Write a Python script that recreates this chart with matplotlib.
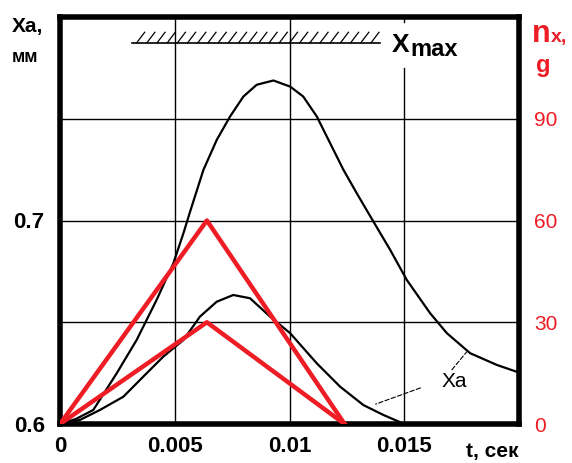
import matplotlib
matplotlib.use('Agg')
import matplotlib.pyplot as plt
import numpy as np

plt.rcParams['font.family'] = ['Liberation Sans', 'DejaVu Sans']

# Перемещение Xa (мм) во времени t (сек), две кривые
t_a = [0, 0.0007, 0.00145, 0.00247, 0.00334, 0.00421, 0.00494, 0.00538, 0.00567,
       0.00625, 0.00683, 0.00741, 0.00799, 0.00857, 0.0093, 0.01003, 0.0106,
       0.01119, 0.01177, 0.01235, 0.01293, 0.01344, 0.01439, 0.01511, 0.01613,
       0.01686, 0.01787, 0.01904, 0.0201]
xa_a = [0.6, 0.6025, 0.6069, 0.6249, 0.6413, 0.661, 0.679, 0.6938, 0.7044,
        0.7249, 0.7396, 0.7511, 0.7609, 0.7667, 0.7688, 0.7658, 0.7609,
        0.7511, 0.738, 0.7249, 0.7134, 0.7036, 0.6855, 0.6708, 0.6544,
        0.6446, 0.6348, 0.629, 0.6249]

t_b = [0, 0.00087, 0.00174, 0.00276, 0.00363, 0.0045, 0.00538, 0.0061, 0.00683,
       0.00755, 0.00828, 0.00915, 0.01003, 0.01119, 0.01221, 0.01322, 0.0141, 0.015]
xa_b = [0.6, 0.602, 0.6069, 0.6134, 0.6233, 0.6331, 0.6413, 0.6528, 0.6601,
        0.6634, 0.6618, 0.6528, 0.6446, 0.6298, 0.6183, 0.6093, 0.6044, 0.6]

# Перегрузка nx (g) - треугольные импульсы
t_n = [0, 0.0064, 0.0124]
nx_1 = [0, 60, 0]
nx_2 = [0, 30, 0]

# Уровень Xmax
xmax_level = 0.7873
xmax_t = [0.00314, 0.01395]

x_ticks = [0, 0.005, 0.01, 0.015]
x_labels = ['0', '0.005', '0.01', '0.015']
y_ticks = [0.6, 0.7]
y_labels = ['0.6', '0.7']
n_ticks = [0, 30, 60, 90]

red = '#ee1c24'

fig = plt.figure(figsize=(5.72, 4.63), dpi=100)
ax = fig.add_axes([60/572, 39/463, 459/572, 407/463])
ax.set_xlim(0, 0.02)
ax.set_ylim(0.6, 0.8)

# сетка
for yg in [0.65, 0.7, 0.75]:
    ax.axhline(yg, color='black', lw=1.0, zorder=1)
ax.axvline(0.005, color='black', lw=1.0, zorder=1)
ax.axvline(0.01, color='black', lw=1.0, zorder=1)
ax.axvline(0.015, ymin=0, ymax=0.875, color='black', lw=1.0, zorder=1)
ax.axvline(0.015, ymin=0.988, ymax=1, color='black', lw=1.0, zorder=1)

# кривые Xa
ax.plot(t_a, xa_a, color='black', lw=1.6, zorder=3)
ax.plot(t_b, xa_b, color='black', lw=1.6, zorder=3)

# ограничитель Xmax со штриховкой
ax.plot(xmax_t, [xmax_level, xmax_level], color='black', lw=1.2, zorder=3)
for xh in np.linspace(xmax_t[0] + 0.0002, xmax_t[1] - 0.0004, 24):
    ax.plot([xh, xh + 0.00035], [xmax_level, xmax_level + 0.0052],
            color='black', lw=0.9, zorder=3)
ax.text(0.01447, 0.7826, 'X', fontsize=19, fontweight='bold', va='baseline')
ax.text(0.01528, 0.7809, 'max', fontsize=17, fontweight='bold', va='baseline')

# подпись Xa с выносками
ax.text(0.01664, 0.6208, 'Xa', fontsize=15, va='center', ha='left', zorder=4)
ax.annotate('', xy=(0.01364, 0.6093), xytext=(0.01582, 0.6182),
            arrowprops=dict(arrowstyle='-', lw=0.8, ls=(0, (4, 2)), color='black'))
ax.annotate('', xy=(0.01779, 0.6364), xytext=(0.017, 0.6256),
            arrowprops=dict(arrowstyle='-', lw=0.8, ls=(0, (4, 2)), color='black'))

ax.set_xticks(x_ticks)
ax.set_xticklabels(x_labels, fontsize=16, fontweight='bold')
ax.set_yticks(y_ticks)
ax.set_yticklabels(y_labels, fontsize=16, fontweight='bold')
ax.tick_params(length=0)
ax.tick_params(axis='x', pad=9)
ax.tick_params(axis='y', pad=11)
for s in ax.spines.values():
    s.set_linewidth(4)
    s.set_zorder(6)

# правая ось nx
ax2 = ax.twinx()
ax2.set_ylim(0, 120)
ax2.plot(t_n, nx_1, color=red, lw=3.2, zorder=5)
ax2.plot(t_n, nx_2, color=red, lw=3.2, zorder=5)
ax2.set_yticks(n_ticks)
ax2.set_yticklabels([str(v) for v in n_ticks], fontsize=15, color=red)
ax2.tick_params(length=0, pad=11)
for s in ax2.spines.values():
    s.set_visible(False)

# подписи осей
fig.text(12/572, (463-32)/463, 'Xa,', fontsize=15, fontweight='bold', va='baseline')
fig.text(12/572, (463-62)/463, 'мм', fontsize=13, fontweight='bold', va='baseline')
fig.text(532/572, (463-42)/463, 'n', fontsize=22, fontweight='bold', color=red, va='baseline')
fig.text(551/572, (463-42)/463, 'x,', fontsize=14, fontweight='bold', color=red, va='baseline')
fig.text(536/572, (463-72)/463, 'g', fontsize=17, fontweight='bold', color=red, va='baseline')
fig.text(466/572, (463-457)/463, 't, сек', fontsize=15, fontweight='bold', va='baseline')

plt.savefig('out.png', dpi=100)
